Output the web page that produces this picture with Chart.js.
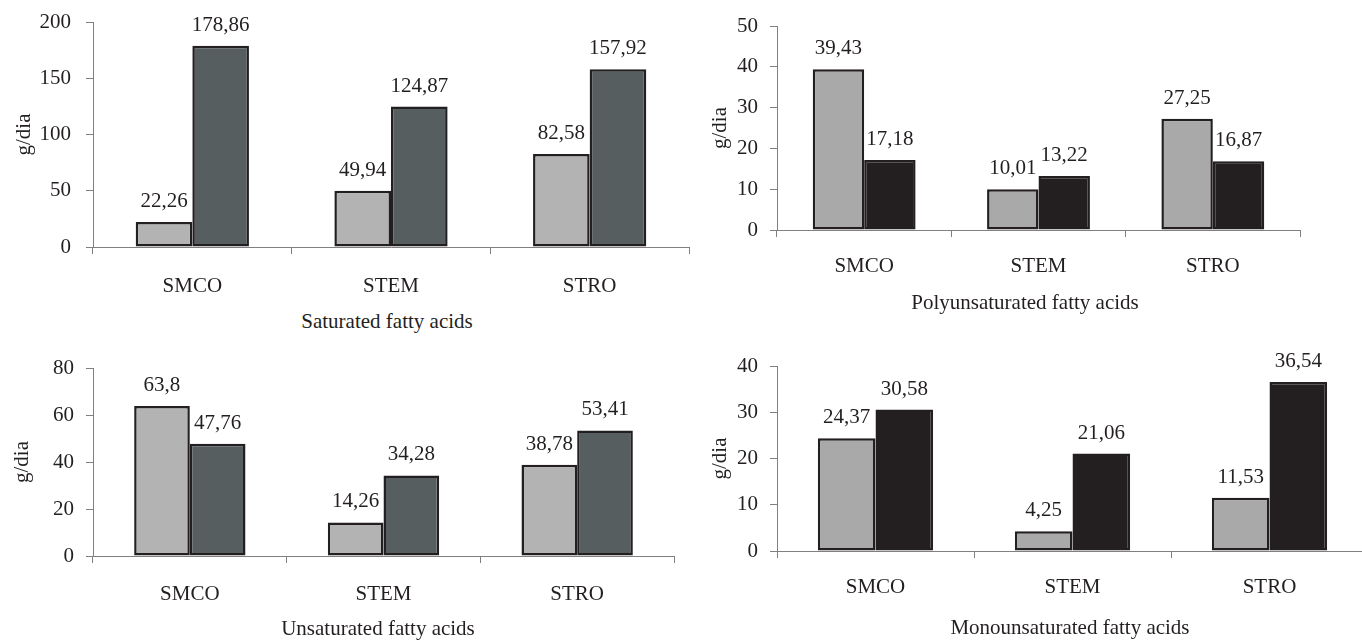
<!DOCTYPE html>
<html>
<head>
<meta charset="utf-8">
<script src="https://cdn.jsdelivr.net/npm/chart.js@4"></script>
<style>
body { margin: 0; width: 1362px; height: 641px; overflow: hidden; background: #fff; position: relative;
       font-family: "Liberation Serif", "DejaVu Serif", serif; color: #231f20; }
canvas { position: absolute; }
.cap { position: absolute; font-size: 21px; line-height: 1; white-space: nowrap; transform: translate(-50%, -50%); }
</style>
</head>
<body>
<canvas id="sat" width="700" height="300" style="left:0;top:0"></canvas>
<canvas id="poly" width="662" height="300" style="left:700px;top:0"></canvas>
<canvas id="unsat" width="700" height="301" style="left:0;top:340px"></canvas>
<canvas id="mono" width="680" height="301" style="left:700px;top:340px"></canvas>
<div class="cap" style="left:387px;top:321px">Saturated fatty acids</div>
<div class="cap" style="left:1025px;top:302px">Polyunsaturated fatty acids</div>
<div class="cap" style="left:378px;top:628px">Unsaturated fatty acids</div>
<div class="cap" style="left:1070px;top:627px">Monounsaturated fatty acids</div>
<script>
const categories = ['SMCO', 'STEM', 'STRO'];

const saturatedA = [22.26, 49.94, 82.58];
const saturatedB = [178.86, 124.87, 157.92];
const saturatedTicks = { max: 200, step: 50 };

const polyA = [39.43, 10.01, 27.25];
const polyB = [17.18, 13.22, 16.87];
const polyTicks = { max: 50, step: 10 };

const unsatA = [63.8, 14.26, 38.78];
const unsatB = [47.76, 34.28, 53.41];
const unsatTicks = { max: 80, step: 20 };

const monoA = [24.37, 4.25, 11.53];
const monoB = [30.58, 21.06, 36.54];
const monoTicks = { max: 40, step: 10 };

const ink = '#231f20';
const axisGray = '#808080';
const serif = '"Liberation Serif", "DejaVu Serif", serif';

// value labels above the bars, decimal comma like the original
const barLabels = {
  id: 'barLabels',
  afterDatasetsDraw(chart) {
    const ctx = chart.ctx;
    ctx.save();
    ctx.font = '21px ' + serif;
    ctx.fillStyle = ink;
    ctx.textAlign = 'center';
    ctx.textBaseline = 'alphabetic';
    chart.data.datasets.forEach((ds, i) => {
      chart.getDatasetMeta(i).data.forEach((bar, j) => {
        ctx.fillText(String(ds.data[j]).replace('.', ','), bar.x, bar.y - 15);
      });
    });
    ctx.restore();
  }
};

function makeChart(id, a, b, yt, light, dark, darkBorder, g) {
  return new Chart(document.getElementById(id), {
    type: 'bar',
    data: {
      labels: categories,
      datasets: [
        { data: a, backgroundColor: light, borderColor: ink, borderWidth: 2.5, borderSkipped: false,
          categoryPercentage: g.pct, barPercentage: 1 },
        { data: b, backgroundColor: dark, borderColor: darkBorder, borderWidth: 2.5, borderSkipped: false,
          categoryPercentage: g.pct, barPercentage: 1 }
      ]
    },
    options: {
      responsive: false,
      animation: false,
      layout: { padding: { top: g.top, right: g.right, left: 0, bottom: 0 } },
      plugins: { legend: { display: false }, tooltip: { enabled: false } },
      scales: {
        x: {
          ticks: { color: ink, font: { family: serif, size: 21 }, padding: g.xpad },
          grid: { drawOnChartArea: false, tickLength: 7, color: axisGray, offset: true },
          border: { color: axisGray },
          afterFit(s) { s.height = g.xh; }
        },
        y: {
          min: 0, max: yt.max,
          ticks: { stepSize: yt.step, color: ink, font: { family: serif, size: 21 }, padding: g.ypad },
          grid: { drawOnChartArea: false, tickLength: 7, color: axisGray },
          border: { color: axisGray },
          title: { display: true, text: 'g/dia', color: ink, font: { family: serif, size: 21 },
                   padding: { top: g.tpad, bottom: 0 } },
          afterFit(s) { s.width = g.yw; s.paddingTop = 0; s.paddingBottom = 0; }
        }
      }
    },
    plugins: [barLabels]
  });
}

Chart.defaults.font.family = serif;

makeChart('sat', saturatedA, saturatedB, saturatedTicks, '#b3b3b3', '#575e60', ink,
  { yw: 93, xh: 53, top: 22, right: 11, pct: 0.57, xpad: 20, ypad: 15, tpad: 12 });
makeChart('poly', polyA, polyB, polyTicks, '#a9a9a9', '#231f20', '#231f20',
  { yw: 77, xh: 70, top: 26, right: 62, pct: 0.59, xpad: 17, ypad: 12, tpad: 8 });
makeChart('unsat', unsatA, unsatB, unsatTicks, '#b3b3b3', '#575e60', ink,
  { yw: 93, xh: 85, top: 28, right: 26, pct: 0.575, xpad: 19, ypad: 12, tpad: 10 });
makeChart('mono', monoA, monoB, monoTicks, '#a9a9a9', '#231f20', '#231f20',
  { yw: 77, xh: 90, top: 26, right: 12, pct: 0.585, xpad: 17, ypad: 12, tpad: 8 });
</script>
</body>
</html>
